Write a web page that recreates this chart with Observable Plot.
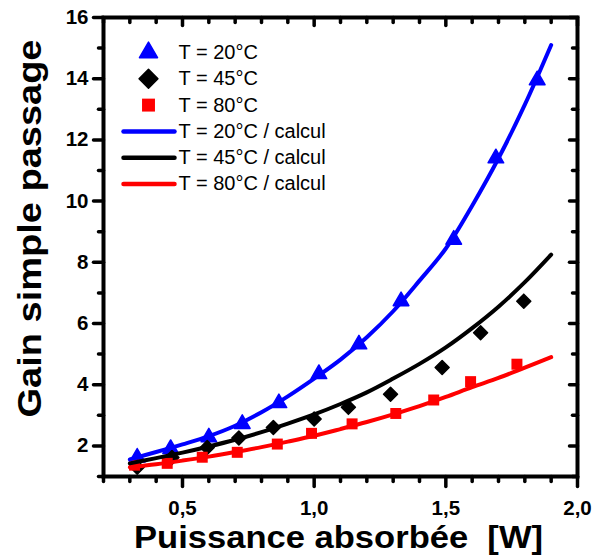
<!DOCTYPE html>
<html><head><meta charset="utf-8">
<script src="https://cdn.jsdelivr.net/npm/d3@7"></script>
<script src="https://cdn.jsdelivr.net/npm/@observablehq/plot@0.6"></script>
<style>body{margin:0;background:#fff;} #chart{width:595px;height:558px;}</style>
</head><body><div id="chart"></div>
<script>
// measured points (Puissance absorbée [W], Gain simple passage)
const x20 = [0.328, 0.455, 0.600, 0.727, 0.866, 1.018, 1.170, 1.330, 1.530, 1.690, 1.847];
const g20 = [1.62, 1.90, 2.28, 2.72, 3.40, 4.35, 5.32, 6.73, 8.74, 11.40, 13.95];
const x45 = [0.328, 0.460, 0.594, 0.714, 0.845, 1.000, 1.130, 1.290, 1.486, 1.632, 1.796];
const g45 = [1.30, 1.62, 1.95, 2.26, 2.60, 2.88, 3.26, 3.69, 4.56, 5.70, 6.73];
const x80 = [0.318, 0.442, 0.575, 0.708, 0.860, 0.990, 1.144, 1.310, 1.454, 1.594, 1.770];
const g80 = [1.37, 1.43, 1.63, 1.79, 2.06, 2.41, 2.72, 3.06, 3.50, 4.10, 4.67];
// calculated curves
const xCalc = [0.3, 0.4, 0.5, 0.6, 0.7, 0.8, 0.9, 1.0, 1.1, 1.2, 1.3, 1.4, 1.5, 1.6, 1.7, 1.8, 1.9];
const c20 = [1.56, 1.80, 2.05, 2.32, 2.66, 3.10, 3.62, 4.20, 4.82, 5.55, 6.40, 7.40, 8.45, 9.85, 11.40, 13.15, 15.10];
const c45 = [1.43, 1.60, 1.78, 1.98, 2.20, 2.45, 2.73, 3.03, 3.37, 3.75, 4.20, 4.68, 5.22, 5.85, 6.55, 7.35, 8.25];
const c80 = [1.30, 1.40, 1.52, 1.65, 1.80, 1.96, 2.14, 2.33, 2.55, 2.78, 3.03, 3.30, 3.60, 3.92, 4.22, 4.56, 4.90];
// ticks
const xMajor = [0.5, 1.0, 1.5, 2.0];
const xMinor = [0.2, 0.3, 0.4, 0.6, 0.7, 0.8, 0.9, 1.1, 1.2, 1.3, 1.4, 1.6, 1.7, 1.8, 1.9];
const yMajor = [2, 4, 6, 8, 10, 12, 14, 16];
const yMinor = [1, 3, 5, 7, 9, 11, 13, 15];
// legend
const legendLabels = ["T = 20°C", "T = 45°C", "T = 80°C", "T = 20°C / calcul", "T = 45°C / calcul", "T = 80°C / calcul"];
const seriesColors = ["#0000ff", "#000000", "#ff0000"];
const symbols = ["triangle", "diamond2", "square"];

const pts = (xs, ys) => xs.map((x, i) => ({x, y: ys[i]}));
const lineShape = {draw(ctx, l) { ctx.moveTo(0, 0); ctx.lineTo(0, -l); }};
const tick = (vals, chan, anchor, len, rot) => Plot.vector(vals, {
  [chan]: d => d, frameAnchor: anchor, length: len, rotate: rot, anchor: "start",
  shape: lineShape, stroke: "black", strokeWidth: 3.5, strokeLinecap: "round"
});

const marks = [
  Plot.frame({stroke: "black", strokeWidth: 4}),
  tick(xMajor, "x", "bottom", 10, 180), tick(xMinor, "x", "bottom", 5, 180),
  tick(xMajor, "x", "top", 8, 180), tick(xMinor, "x", "top", 5, 180),
  tick(yMajor, "y", "left", 10, -90), tick(yMinor, "y", "left", 5, -90),
  tick(yMajor, "y", "right", 8, -90), tick(yMinor, "y", "right", 5, -90),
  Plot.axisX({ticks: xMajor, tickSize: 0, tickPadding: 24, tickFormat: d => d.toFixed(1).replace(".", ","), fontSize: 20.5, fontWeight: "bold", label: null}),
  Plot.axisY({ticks: yMajor, tickSize: 0, tickPadding: 15, fontSize: 20.5, fontWeight: "bold", label: null}),
  Plot.dot(pts(x20, g20), {x: "x", y: "y", symbol: "triangle", r: 5.8, fill: seriesColors[0], stroke: seriesColors[0], strokeWidth: 1.5, strokeLinejoin: "round"}),
  Plot.dot(pts(x45, g45), {x: "x", y: "y", symbol: "diamond2", r: 6.3, fill: seriesColors[1], stroke: seriesColors[1], strokeWidth: 1.5, strokeLinejoin: "round"}),
  Plot.dot(pts(x80, g80), {x: "x", y: "y", symbol: "square", r: 6.2, fill: seriesColors[2]}),
  Plot.line(pts(xCalc, c80), {x: "x", y: "y", stroke: seriesColors[2], strokeWidth: 4, curve: "catmull-rom"}),
  Plot.line(pts(xCalc, c45), {x: "x", y: "y", stroke: seriesColors[1], strokeWidth: 4, curve: "catmull-rom"}),
  Plot.line(pts(xCalc, c20), {x: "x", y: "y", stroke: seriesColors[0], strokeWidth: 4, curve: "catmull-rom"}),
  Plot.text(["Puissance absorbée  [W]"], {text: d => d, frameAnchor: "bottom", textAnchor: "middle", lineAnchor: "middle", dx: -2, dy: 61, fontSize: 32, fontWeight: "bold", className: "xtitle"}),
  Plot.text(["Gain simple passage"], {text: d => d, frameAnchor: "left", textAnchor: "middle", lineAnchor: "middle", dx: -73.5, dy: -18.5, rotate: -90, fontSize: 34, fontWeight: "bold", className: "ytitle"})
];
const legendR = [6.7, 8.5, 7.3];
legendLabels.forEach((lab, i) => {
  const dy = 35 + i * 26.3;
  const c = seriesColors[i % 3];
  if (i < 3) {
    marks.push(Plot.dot([lab], {frameAnchor: "top-left", dx: 45, dy, symbol: symbols[i], r: legendR[i], fill: c, stroke: c, strokeWidth: i < 2 ? 1.5 : 0, strokeLinejoin: "round"}));
  } else {
    marks.push(Plot.vector([lab], {frameAnchor: "top-left", dx: 20, dy, length: 51, rotate: 90, anchor: "start", shape: lineShape, stroke: c, strokeWidth: 4.5, strokeLinecap: "round"}));
  }
  marks.push(Plot.text([lab], {text: d => d, frameAnchor: "top-left", dx: 75, dy, textAnchor: "start", lineAnchor: "middle", fontSize: 20, fill: "black"}));
});

const chart = Plot.plot({
  width: 595, height: 558,
  marginTop: 17, marginRight: 18, marginBottom: 82, marginLeft: 103,
  x: {domain: [0.2, 2.0]},
  y: {domain: [1, 16]},
  style: {fontFamily: "'Liberation Sans', Arial, sans-serif", background: "white", color: "black"},
  marks
});
document.getElementById("chart").appendChild(chart);
const setLen = (sel, len) => d3.select(chart).selectAll(sel).attr("textLength", len).attr("lengthAdjust", "spacingAndGlyphs");
setLen(".xtitle text", 409);
setLen(".ytitle text", 378);
</script>
</body></html>
